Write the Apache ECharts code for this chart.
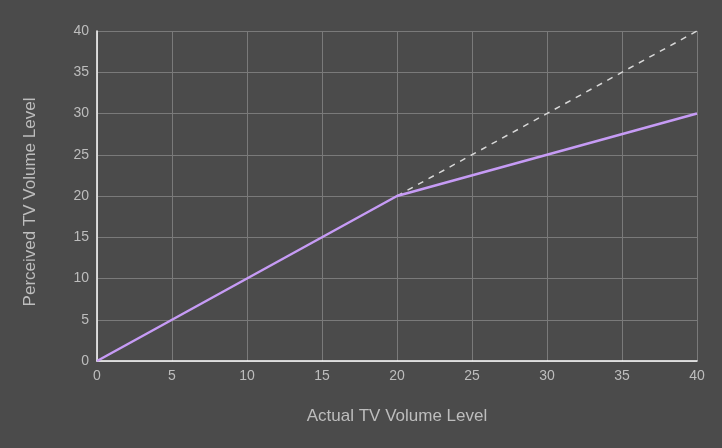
<!DOCTYPE html>
<html><head><meta charset="utf-8">
<script src="https://cdn.jsdelivr.net/npm/echarts@6/dist/echarts.min.js"></script>
<style>html,body{margin:0;padding:0;background:#4b4b4b}#c{width:722px;height:448px}</style>
</head><body><div id="c"></div>
<script>
const perceivedX = [0, 20, 40];
const perceivedY = [0, 20, 30];
const linearX = [20, 40];
const linearY = [20, 40];
const xTitle = 'Actual TV Volume Level';
const yTitle = 'Perceived TV Volume Level';

const chart = echarts.init(document.getElementById('c'));
const pair = (xs, ys) => xs.map((x, i) => [x, ys[i]]);
chart.setOption({
  backgroundColor: '#4b4b4b',
  animation: false,
  grid: {left: 97, right: 25, top: 31, bottom: 87},
  xAxis: {
    type: 'value', min: 0, max: 40, interval: 5,
    name: xTitle, nameLocation: 'middle', nameGap: 47,
    nameTextStyle: {color: '#bdbdbd', fontSize: 17, fontFamily: 'Liberation Sans'},
    axisLine: {lineStyle: {color: '#ffffff', width: 1.5}},
    axisTick: {show: false},
    axisLabel: {color: '#bdbdbd', fontSize: 14, fontFamily: 'Liberation Sans', margin: 8},
    splitLine: {lineStyle: {color: '#7a7a7a', width: 1}}
  },
  yAxis: {
    type: 'value', min: 0, max: 40, interval: 5,
    name: yTitle, nameLocation: 'middle', nameGap: 58,
    nameTextStyle: {color: '#bdbdbd', fontSize: 17, fontFamily: 'Liberation Sans', padding: [0, 12, 0, 0]},
    axisLine: {show: true, lineStyle: {color: '#ffffff', width: 1.5}},
    axisTick: {show: false},
    axisLabel: {color: '#bdbdbd', fontSize: 14, fontFamily: 'Liberation Sans', margin: 8},
    splitLine: {lineStyle: {color: '#7a7a7a', width: 1}}
  },
  series: [
    {
      type: 'line', data: pair(linearX, linearY), symbol: 'none',
      lineStyle: {color: '#d8d8d8', width: 1.5, type: [6, 6]}
    },
    {
      type: 'line', data: pair(perceivedX, perceivedY), symbol: 'none',
      lineStyle: {color: '#c69bf5', width: 2.5}
    }
  ]
});
</script></body></html>
